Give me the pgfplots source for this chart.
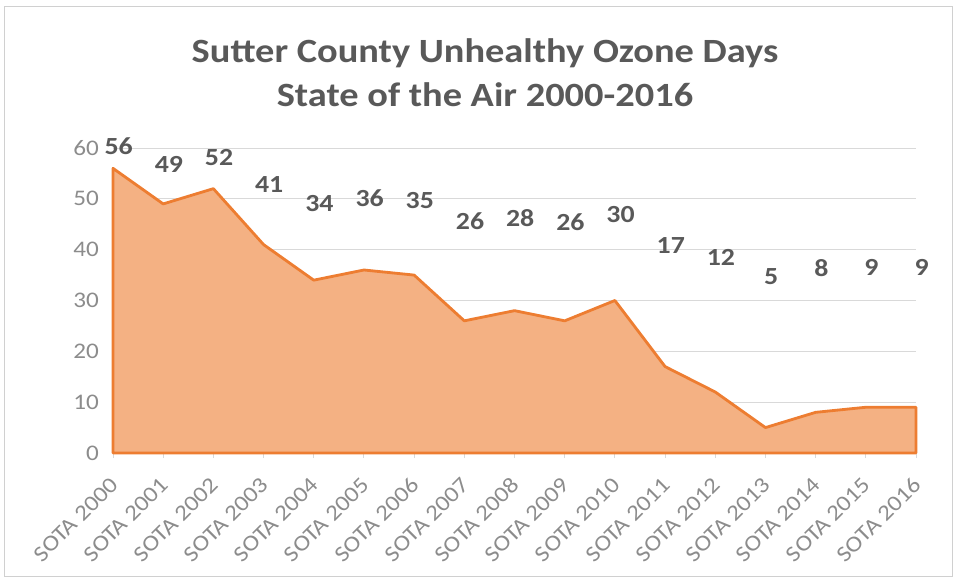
\documentclass[border=0pt]{standalone}
\usepackage{pgfplots}
\pgfplotsset{compat=1.18}
\usepackage{pgfplotstable}
\usepackage{fontspec}
\setmainfont{Carlito}[FakeStretch=1.13]
\definecolor{peach}{HTML}{F4B183}
\definecolor{orangeline}{HTML}{ED7D31}
\definecolor{gridc}{HTML}{D9D9D9}
\definecolor{tickc}{HTML}{8C8C8C}
\definecolor{titlec}{HTML}{595959}
\definecolor{borderc}{HTML}{D0D0D0}
\pgfplotstableread{
x v ly
0 56 60.3
1 49 56.7
2 52 58.1
3 41 52.8
4 34 49.0
5 36 50.1
6 35 49.6
7 26 45.6
8 28 46.3
9 26 45.4
10 30 46.9
11 17 40.9
12 12 38.4
13 5 34.7
14 8 36.4
15 9 36.6
16 9 36.6
}\data
\begin{document}
\begin{tikzpicture}
\begin{axis}[
  name=ax,
  scale only axis,
  width=24.09cm, height=9.15cm,
  xmin=0, xmax=16, ymin=0, ymax=60,
  clip=false,
  axis x line*=bottom, axis y line*=left,
  x axis line style={gridc, line width=0.9pt, -},
  y axis line style={draw=none},
  ytick={0,10,...,60},
  ymajorgrids, grid style={gridc, line width=0.8pt},
  xtick={0,...,16},
  xticklabels={SOTA 2000,SOTA 2001,SOTA 2002,SOTA 2003,SOTA 2004,SOTA 2005,SOTA 2006,SOTA 2007,SOTA 2008,SOTA 2009,SOTA 2010,SOTA 2011,SOTA 2012,SOTA 2013,SOTA 2014,SOTA 2015,SOTA 2016},
  xtick align=outside,
  xtick style={gridc, line width=0.8pt},
  ytick style={draw=none},
  major tick length=0.15cm,
  tick label style={font=\fontsize{19}{19}\selectfont, text=tickc},
  /pgf/number format/assume math mode=true,
  yticklabel style={anchor=east, xshift=-0.3cm},
  xticklabel style={xshift=0.12cm, yshift=-0.6cm, rotate=45, anchor=east},
]
\addplot[fill=peach, draw=orangeline, line width=2.4pt, line join=round] table[x=x, y=v] {\data} \closedcycle;
\addplot[draw=none, mark=none, nodes near coords, point meta=explicit symbolic,
  every node near coord/.style={font=\bfseries\fontsize{21}{21}\selectfont, text=titlec, anchor=center, xshift=0.17cm}]
  table[x=x, y=ly, meta=v] {\data};
\end{axis}
\begin{scope}[shift={(ax.south west)}, x=0.03cm, y=0.03cm]
\useasboundingbox (-113,-128) rectangle (841,453);
\draw[borderc, line width=0.8pt] (-109,-123) rectangle (839,447);
\node[font=\bfseries\fontsize{29}{38}\selectfont, text=titlec, align=center] at (372,380.5) {Sutter County Unhealthy Ozone Days\\State of the Air 2000-2016};
\end{scope}
\end{tikzpicture}
\end{document}
